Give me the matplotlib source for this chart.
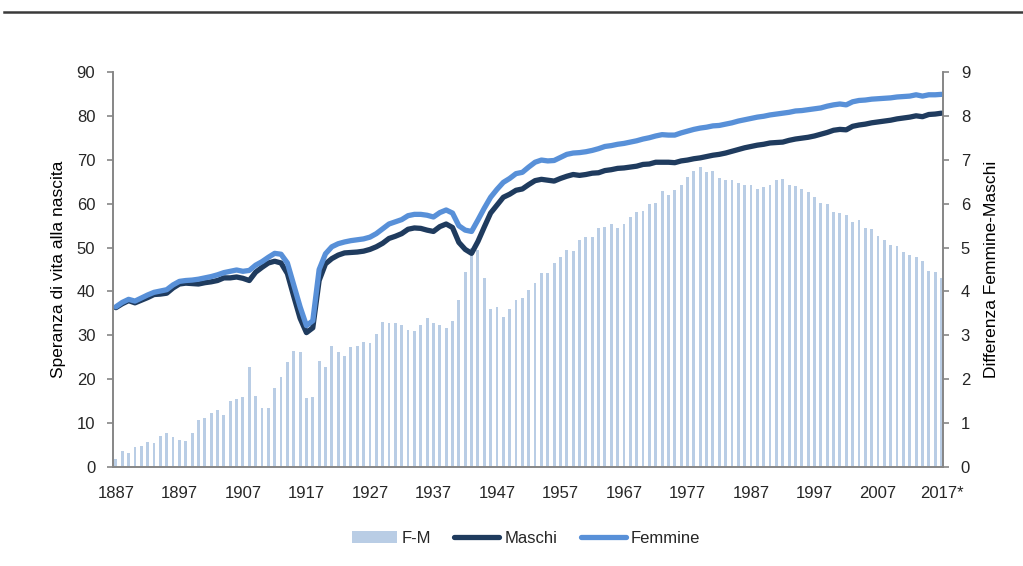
import matplotlib
matplotlib.use('Agg')
import matplotlib.pyplot as plt
from matplotlib.lines import Line2D

plt.rcParams['font.family'] = ['Liberation Sans', 'DejaVu Sans']
plt.rcParams['font.size'] = 12
plt.rcParams['text.color'] = '#262626'
plt.rcParams['xtick.color'] = '#868686'
plt.rcParams['ytick.color'] = '#868686'
plt.rcParams['xtick.labelcolor'] = '#262626'
plt.rcParams['ytick.labelcolor'] = '#262626'

# Dati: speranza di vita alla nascita, Italia 1887-2017
years = list(range(1887, 2018))
tick_years = [1887, 1897, 1907, 1917, 1927, 1937, 1947, 1957, 1967, 1977, 1987, 1997, 2007, 2017]
tick_labels = ['1887', '1897', '1907', '1917', '1927', '1937', '1947', '1957',
               '1967', '1977', '1987', '1997', '2007', '2017*']

diff_fm = [0.18, 0.35, 0.31, 0.44, 0.48, 0.56, 0.54, 0.71, 0.78, 0.68,
           0.62, 0.59, 0.78, 1.07, 1.10, 1.23, 1.30, 1.19, 1.49, 1.55,
           1.58, 2.27, 1.62, 1.35, 1.35, 1.80, 2.04, 2.38, 2.65, 2.61,
           1.57, 1.60, 2.42, 2.28, 2.75, 2.62, 2.52, 2.74, 2.76, 2.84,
           2.82, 3.03, 3.30, 3.27, 3.27, 3.23, 3.13, 3.10, 3.23, 3.39,
           3.29, 3.23, 3.17, 3.33, 3.81, 4.44, 5.00, 4.95, 4.31, 3.61,
           3.64, 3.41, 3.60, 3.80, 3.85, 4.04, 4.19, 4.42, 4.42, 4.66,
           4.78, 4.95, 4.93, 5.18, 5.24, 5.25, 5.46, 5.48, 5.54, 5.46,
           5.55, 5.69, 5.81, 5.84, 6.00, 6.01, 6.30, 6.21, 6.32, 6.44,
           6.61, 6.74, 6.83, 6.72, 6.74, 6.59, 6.55, 6.55, 6.48, 6.42,
           6.42, 6.35, 6.39, 6.42, 6.55, 6.57, 6.42, 6.40, 6.34, 6.26,
           6.15, 6.02, 6.00, 5.81, 5.79, 5.75, 5.58, 5.64, 5.46, 5.43,
           5.27, 5.18, 5.06, 5.03, 4.89, 4.83, 4.79, 4.69, 4.47, 4.45,
           4.31]

femmine = [36.5, 37.5, 38.2, 37.8, 38.5, 39.2, 39.8, 40.1, 40.4, 41.5,
           42.3, 42.5, 42.6, 42.8, 43.1, 43.4, 43.8, 44.3, 44.6, 44.9,
           44.6, 44.8, 46.0, 46.8, 47.8, 48.7, 48.5, 46.5, 41.5, 36.5,
           32.2, 33.3, 45.0, 48.6, 50.2, 50.9, 51.3, 51.6, 51.8, 52.0,
           52.4, 53.2, 54.3, 55.4, 55.9, 56.4, 57.3, 57.6, 57.6, 57.4,
           57.0, 58.0, 58.6, 57.9, 55.0, 54.0, 53.7, 56.3, 59.0, 61.5,
           63.3, 64.9, 65.8, 66.9, 67.2, 68.4, 69.5, 70.0, 69.8, 69.9,
           70.6, 71.3, 71.6, 71.7, 71.9, 72.2, 72.6, 73.1, 73.3, 73.6,
           73.8, 74.1, 74.4, 74.8, 75.1, 75.5, 75.8, 75.7, 75.7, 76.2,
           76.6, 77.0, 77.3, 77.5, 77.8, 77.9, 78.2, 78.5, 78.9, 79.2,
           79.5, 79.8, 80.0, 80.3, 80.5, 80.7, 80.9, 81.2, 81.3, 81.5,
           81.7, 81.9, 82.3, 82.6, 82.8, 82.6, 83.3, 83.6, 83.7, 83.9,
           84.0, 84.1, 84.2, 84.4, 84.5, 84.6, 84.9, 84.6, 84.9, 84.9,
           85.0]

maschi = [36.3, 37.2, 37.9, 37.4, 38.0, 38.6, 39.3, 39.4, 39.6, 40.8,
          41.7, 41.9, 41.8, 41.7, 42.0, 42.2, 42.5, 43.1, 43.1, 43.3,
          43.0, 42.5, 44.4, 45.5, 46.5, 46.9, 46.5, 44.1, 38.9, 33.9,
          30.6, 31.7, 42.5, 46.3, 47.5, 48.3, 48.8, 48.9, 49.0, 49.2,
          49.6, 50.2, 51.0, 52.1, 52.6, 53.2, 54.2, 54.5, 54.4, 54.0,
          53.7, 54.8, 55.4, 54.6, 51.2, 49.6, 48.7, 51.4, 54.7, 57.9,
          59.7, 61.5, 62.2, 63.1, 63.4, 64.4, 65.3, 65.6, 65.4, 65.2,
          65.8, 66.3, 66.7, 66.5, 66.7, 67.0, 67.1, 67.6, 67.8, 68.1,
          68.2, 68.4, 68.6, 69.0, 69.1, 69.5, 69.5, 69.5, 69.4, 69.8,
          70.0, 70.3, 70.5, 70.8, 71.1, 71.3, 71.6, 72.0, 72.4, 72.8,
          73.1, 73.4, 73.6, 73.9, 74.0, 74.1, 74.5, 74.8, 75.0, 75.2,
          75.5, 75.9, 76.3, 76.8, 77.0, 76.9, 77.7, 78.0, 78.2, 78.5,
          78.7, 78.9, 79.1, 79.4, 79.6, 79.8, 80.1, 79.9, 80.4, 80.5,
          80.7]

fig = plt.figure(figsize=(10.23, 5.66), dpi=100)
ax = fig.add_axes([0.1102, 0.1755, 0.8120, 0.6965])
ax2 = ax.twinx()

# barre differenza F-M sull'asse destro, dietro le linee
bars = ax2.bar(years, diff_fm, width=0.45, color='#B9CDE5', label='F-M')
ax2.set_ylim(0, 9)
ax2.set_yticks(range(0, 10))
ax2.set_ylabel('Differenza Femmine-Maschi', fontsize=12.5, labelpad=10)

ax.set_zorder(ax2.get_zorder() + 1)
ax.patch.set_visible(False)
l_m, = ax.plot(years, maschi, color='#1F3B5E', lw=3.8, label='Maschi', solid_capstyle='round')
l_f, = ax.plot(years, femmine, color='#5890D8', lw=3.8, label='Femmine', solid_capstyle='round')
ax.set_ylim(0, 90)
ax.set_yticks(range(0, 100, 10))
ax.set_ylabel('Speranza di vita alla nascita', fontsize=12.5, labelpad=8)
ax.set_xlim(1886.5, 2017.3)
ax.set_xticks(tick_years)
ax.set_xticklabels(tick_labels)

for a in (ax, ax2):
    a.spines['top'].set_visible(False)
    for s in ('left', 'right', 'bottom'):
        a.spines[s].set_color('#868686')
        a.spines[s].set_linewidth(1.2)
    a.tick_params(axis='y', length=4.5, width=1.2, pad=8)
    a.tick_params(axis='x', length=0, pad=14)

fig.add_artist(Line2D([0.004, 1.0], [0.979, 0.979], color='#3a3a3a', lw=1.8))

fig.legend([bars, l_m, l_f], ['F-M', 'Maschi', 'Femmine'], loc='center',
           bbox_to_anchor=(0.514, 0.049), ncol=3, frameon=False,
           handlelength=2.7, handletextpad=0.3, columnspacing=1.4)

plt.savefig('out.png', dpi=100)
